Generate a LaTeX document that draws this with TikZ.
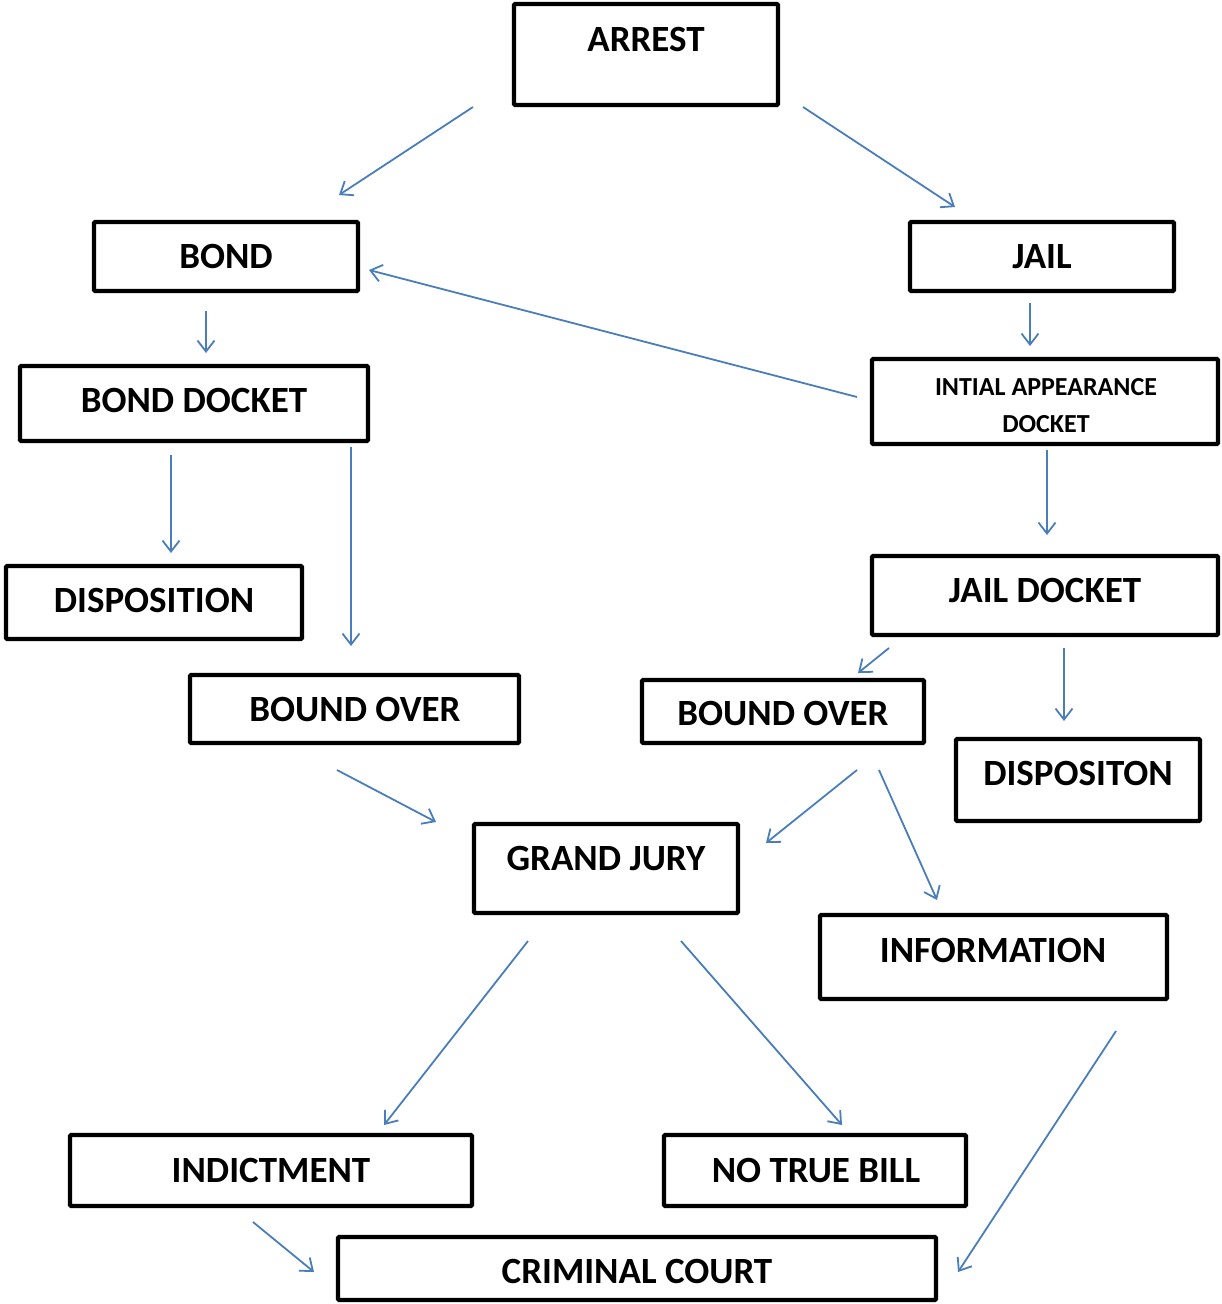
\documentclass[tikz,border=0pt]{standalone}
\usepackage{fontspec}
\setmainfont{Carlito}
\usetikzlibrary{arrows.meta,fit}
\definecolor{arrowblue}{HTML}{4A7EBB}
\tikzset{
  box/.style={draw=black, line width=4.2pt, inner sep=0pt, outer sep=0pt, rounded corners=1pt},
  lbl/.style={font=\fontsize{37}{40}\selectfont\bfseries, inner sep=0pt, text height=23.8pt, text depth=0pt},
  slbl/.style={font=\fontsize{26}{28}\selectfont\bfseries, inner sep=0pt, text height=16.7pt, text depth=0pt},
  flow/.style={draw=arrowblue, line width=1.8pt, -{Straight Barb[length=11pt,width=17pt,line width=1.8pt]}}
}
\begin{document}
\begin{tikzpicture}[x=1pt,y=-1pt]
\useasboundingbox (0,0) rectangle (1221,1304);
% boxes
\node[box, fit={(514,4) (778,105)}] (arrest) {};
\node[box, fit={(94,222) (358,291)}] (bond) {};
\node[box, fit={(910,222) (1174,291)}] (jail) {};
\node[box, fit={(20,366) (368,441)}] (bonddocket) {};
\node[box, fit={(872,359) (1218,444)}] (initial) {};
\node[box, fit={(6,566) (302,639)}] (disposition) {};
\node[box, fit={(872,556) (1218,635)}] (jaildocket) {};
\node[box, fit={(190,675) (519,743)}] (boundL) {};
\node[box, fit={(642,680) (924,743)}] (boundR) {};
\node[box, fit={(956,739) (1200,821)}] (dispositon) {};
\node[box, fit={(474,824) (738,913)}] (grandjury) {};
\node[box, fit={(820,915) (1167,999)}] (information) {};
\node[box, fit={(70,1135) (472,1206)}] (indictment) {};
\node[box, fit={(664,1135) (966,1206)}] (notruebill) {};
\node[box, fit={(338,1237) (936,1300)}] (criminal) {};
% labels
\node[lbl] (arrest-t) at (646,40) {ARREST};
\node[lbl] (bond-t) at (226,257) {BOND};
\node[lbl] (jail-t) at (1042,257) {JAIL};
\node[lbl] (bonddocket-t) at (194,401) {BOND DOCKET};
\node[slbl] (initial-t1) at (1046,387) {INTIAL APPEARANCE};
\node[slbl] (initial-t2) at (1046,424) {DOCKET};
\node[lbl] (disposition-t) at (154,601) {DISPOSITION};
\node[lbl] (jaildocket-t) at (1045,591) {JAIL DOCKET};
\node[lbl] (boundL-t) at (355,710) {BOUND OVER};
\node[lbl] (boundR-t) at (783,714) {BOUND OVER};
\node[lbl] (dispositon-t) at (1078,774) {DISPOSITON};
\node[lbl] (grandjury-t) at (606,859) {GRAND JURY};
\node[lbl] (information-t) at (993,951) {INFORMATION};
\node[lbl] (indictment-t) at (271,1171) {INDICTMENT};
\node[lbl] (notruebill-t) at (816,1171) {NO TRUE BILL};
\node[lbl] (criminal-t) at (637,1272) {CRIMINAL COURT};
% arrow end points
\coordinate (a1s) at (473,107);  \coordinate (a1e) at (339,195);
\coordinate (a2s) at (803,107);  \coordinate (a2e) at (955,207);
\coordinate (a3s) at (206,311);  \coordinate (a3e) at (206,353);
\coordinate (a4s) at (1030,303); \coordinate (a4e) at (1030,346);
\coordinate (a5s) at (857,397);  \coordinate (a5e) at (369,270);
\coordinate (a6s) at (171,455);  \coordinate (a6e) at (171,553);
\coordinate (a7s) at (351,447);  \coordinate (a7e) at (351,646);
\coordinate (a8s) at (1047,450); \coordinate (a8e) at (1047,535);
\coordinate (a9s) at (889,648);  \coordinate (a9e) at (858,673);
\coordinate (a10s) at (1064,648); \coordinate (a10e) at (1064,721);
\coordinate (a11s) at (337,770); \coordinate (a11e) at (436,822);
\coordinate (a12s) at (857,770); \coordinate (a12e) at (766,843);
\coordinate (a13s) at (879,770); \coordinate (a13e) at (937,900);
\coordinate (a14s) at (528,941); \coordinate (a14e) at (384,1125);
\coordinate (a15s) at (681,941); \coordinate (a15e) at (842,1125);
\coordinate (a16s) at (1116,1031); \coordinate (a16e) at (958,1272);
\coordinate (a17s) at (253,1222); \coordinate (a17e) at (314,1272);
% arrows
\foreach \i in {1,...,17} {\draw[flow] (a\i s) -- (a\i e);}
\end{tikzpicture}
\end{document}
